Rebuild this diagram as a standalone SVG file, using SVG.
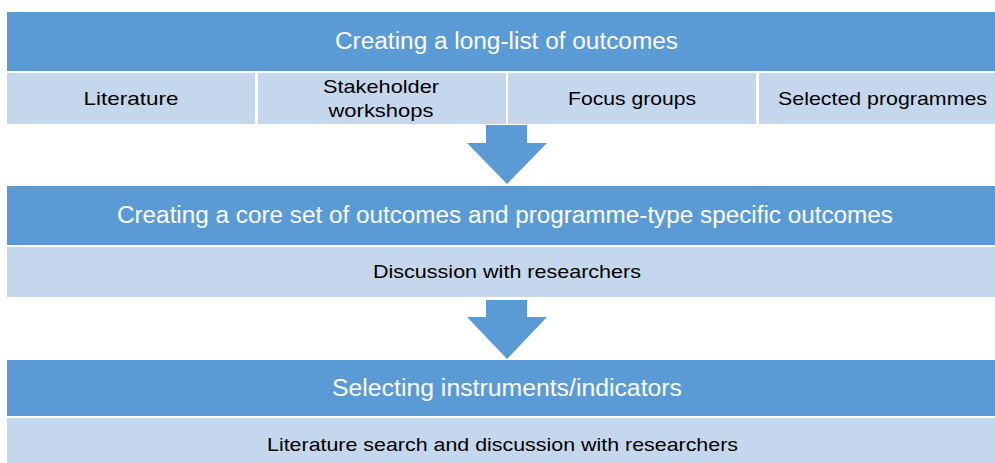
<svg xmlns="http://www.w3.org/2000/svg" width="995" height="463" viewBox="0 0 995 463">
  <style>
    .bar { fill: #5B9BD5; }
    .cell { fill: #C5D7EC; }
    .arrow { fill: #5B9BD5; }
    .head { font-family: "Liberation Sans", Arial, sans-serif; font-size: 23px; fill: #FFFFFF; text-anchor: middle; }
    .sub { font-family: "Liberation Sans", Arial, sans-serif; font-size: 19px; fill: #000000; text-anchor: middle; }
  </style>
  <rect x="0" y="0" width="995" height="463" fill="#FFFFFF"/>

  <!-- Stage 1: long-list of outcomes -->
  <g id="stage1">
    <rect class="bar" x="7" y="12" width="1000" height="59"/>
    <text class="head" x="506.5" y="49" textLength="343" lengthAdjust="spacingAndGlyphs">Creating a long-list of outcomes</text>
  </g>
  <g id="stage1-literature">
    <rect class="cell" x="7" y="73" width="248" height="51"/>
    <text class="sub" x="131" y="105" textLength="95" lengthAdjust="spacingAndGlyphs">Literature</text>
  </g>
  <g id="stage1-workshops">
    <rect class="cell" x="258" y="73" width="248" height="51"/>
    <text class="sub" x="381" y="93" textLength="116" lengthAdjust="spacingAndGlyphs">Stakeholder</text>
    <text class="sub" x="381" y="117" textLength="105" lengthAdjust="spacingAndGlyphs">workshops</text>
  </g>
  <g id="stage1-focus">
    <rect class="cell" x="508" y="73" width="248" height="51"/>
    <text class="sub" x="632" y="105" textLength="128" lengthAdjust="spacingAndGlyphs">Focus groups</text>
  </g>
  <g id="stage1-programmes">
    <rect class="cell" x="759" y="73" width="248" height="51"/>
    <text class="sub" x="882.5" y="105" textLength="209" lengthAdjust="spacingAndGlyphs">Selected programmes</text>
  </g>

  <!-- Stage 2: core set -->
  <g id="stage2">
    <rect class="bar" x="7" y="186" width="1000" height="59"/>
    <text class="head" x="505" y="223" textLength="776" lengthAdjust="spacingAndGlyphs">Creating a core set of outcomes and programme-type specific outcomes</text>
  </g>
  <g id="stage2-discussion">
    <rect class="cell" x="7" y="247" width="1000" height="50"/>
    <text class="sub" x="507" y="278" textLength="268" lengthAdjust="spacingAndGlyphs">Discussion with researchers</text>
  </g>

  <!-- Stage 3: instruments -->
  <g id="stage3">
    <rect class="bar" x="7" y="360" width="1000" height="56"/>
    <text class="head" x="507" y="396" textLength="350" lengthAdjust="spacingAndGlyphs">Selecting instruments/indicators</text>
  </g>
  <g id="stage3-search">
    <rect class="cell" x="7" y="418" width="1000" height="45"/>
    <text class="sub" x="502.5" y="451" textLength="471" lengthAdjust="spacingAndGlyphs">Literature search and discussion with researchers</text>
  </g>

  <!-- Block arrows between stages -->
  <g id="connectors">
    <polygon class="arrow" points="486,125 527,125 527,143 547,143 507,184 467,143 486,143"/>
    <polygon class="arrow" points="486,300 527,300 527,317 547,317 507,359 467,317 486,317"/>
  </g>
</svg>
